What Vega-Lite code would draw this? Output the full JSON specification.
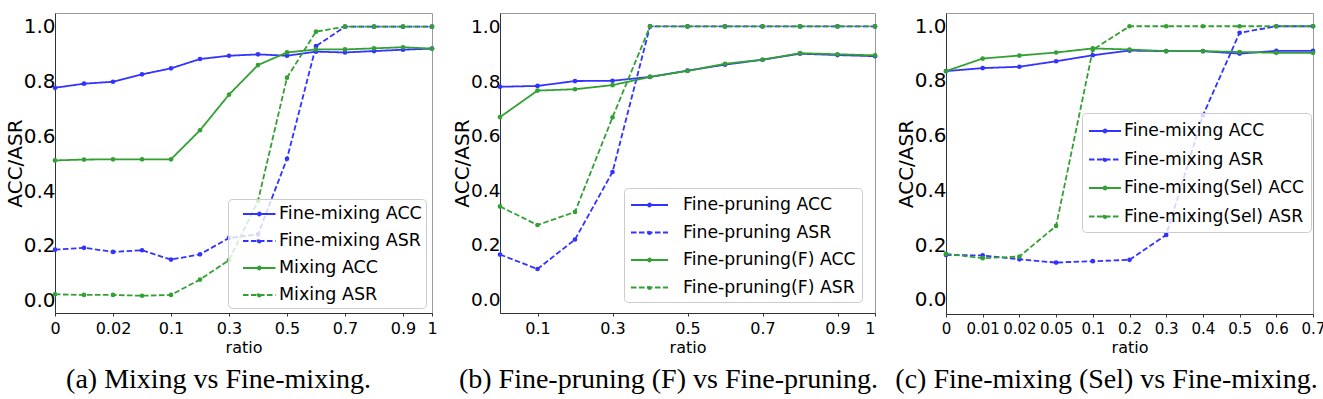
{
  "$schema": "https://vega.github.io/schema/vega-lite/v6.json",
  "padding": {"left": 4, "top": 12, "right": 0, "bottom": 0},
  "background": "white",
  "spacing": 14,
  "config": {
    "font": "DejaVu Sans",
    "view": {"stroke": "#999", "strokeWidth": 1},
    "axis": {"grid": false, "domainColor": "#333", "labelColor": "black", "titleColor": "black", "titleFontWeight": "normal", "labelFont": "DejaVu Sans", "titleFont": "DejaVu Sans"},
    "axisX": {"labelFontSize": 16, "titleFontSize": 16, "ticks": true, "tickSize": 3, "tickColor": "#333", "labelPadding": 4, "titlePadding": 3, "labelAngle": 0},
    "axisY": {"labelFontSize": 20, "titleFontSize": 20, "ticks": false, "labelPadding": 0, "titlePadding": -2},
    "legend": {"symbolStrokeWidth": 1.8, "symbolSize": 400, "labelFont": "DejaVu Sans", "labelColor": "black", "fillColor": "rgba(255,255,255,0.8)", "strokeColor": "#ccc", "cornerRadius": 4, "labelLimit": 400},
    "title": {"font": "Liberation Serif", "fontSize": 28, "fontWeight": "normal", "color": "black", "orient": "bottom", "offset": 11}
  },
  "datasets": {
    "a": [
      {"ratio": "0", "series": "Fine-mixing ACC", "value": 0.777},
      {"ratio": "0.01", "series": "Fine-mixing ACC", "value": 0.792},
      {"ratio": "0.02", "series": "Fine-mixing ACC", "value": 0.799},
      {"ratio": "0.05", "series": "Fine-mixing ACC", "value": 0.826},
      {"ratio": "0.1", "series": "Fine-mixing ACC", "value": 0.848},
      {"ratio": "0.2", "series": "Fine-mixing ACC", "value": 0.882},
      {"ratio": "0.3", "series": "Fine-mixing ACC", "value": 0.894},
      {"ratio": "0.4", "series": "Fine-mixing ACC", "value": 0.899},
      {"ratio": "0.5", "series": "Fine-mixing ACC", "value": 0.894},
      {"ratio": "0.6", "series": "Fine-mixing ACC", "value": 0.909},
      {"ratio": "0.7", "series": "Fine-mixing ACC", "value": 0.906},
      {"ratio": "0.8", "series": "Fine-mixing ACC", "value": 0.911},
      {"ratio": "0.9", "series": "Fine-mixing ACC", "value": 0.916},
      {"ratio": "1", "series": "Fine-mixing ACC", "value": 0.920},
      {"ratio": "0", "series": "Fine-mixing ASR", "value": 0.186},
      {"ratio": "0.01", "series": "Fine-mixing ASR", "value": 0.193},
      {"ratio": "0.02", "series": "Fine-mixing ASR", "value": 0.178},
      {"ratio": "0.05", "series": "Fine-mixing ASR", "value": 0.184},
      {"ratio": "0.1", "series": "Fine-mixing ASR", "value": 0.150},
      {"ratio": "0.2", "series": "Fine-mixing ASR", "value": 0.169},
      {"ratio": "0.3", "series": "Fine-mixing ASR", "value": 0.229},
      {"ratio": "0.4", "series": "Fine-mixing ASR", "value": 0.242},
      {"ratio": "0.5", "series": "Fine-mixing ASR", "value": 0.518},
      {"ratio": "0.6", "series": "Fine-mixing ASR", "value": 0.929},
      {"ratio": "0.7", "series": "Fine-mixing ASR", "value": 1.0},
      {"ratio": "0.8", "series": "Fine-mixing ASR", "value": 1.0},
      {"ratio": "0.9", "series": "Fine-mixing ASR", "value": 1.0},
      {"ratio": "1", "series": "Fine-mixing ASR", "value": 1.0},
      {"ratio": "0", "series": "Mixing ACC", "value": 0.512},
      {"ratio": "0.01", "series": "Mixing ACC", "value": 0.515},
      {"ratio": "0.02", "series": "Mixing ACC", "value": 0.516},
      {"ratio": "0.05", "series": "Mixing ACC", "value": 0.516},
      {"ratio": "0.1", "series": "Mixing ACC", "value": 0.516},
      {"ratio": "0.2", "series": "Mixing ACC", "value": 0.622},
      {"ratio": "0.3", "series": "Mixing ACC", "value": 0.752},
      {"ratio": "0.4", "series": "Mixing ACC", "value": 0.860},
      {"ratio": "0.5", "series": "Mixing ACC", "value": 0.906},
      {"ratio": "0.6", "series": "Mixing ACC", "value": 0.917},
      {"ratio": "0.7", "series": "Mixing ACC", "value": 0.917},
      {"ratio": "0.8", "series": "Mixing ACC", "value": 0.921},
      {"ratio": "0.9", "series": "Mixing ACC", "value": 0.925},
      {"ratio": "1", "series": "Mixing ACC", "value": 0.920},
      {"ratio": "0", "series": "Mixing ASR", "value": 0.023},
      {"ratio": "0.01", "series": "Mixing ASR", "value": 0.021},
      {"ratio": "0.02", "series": "Mixing ASR", "value": 0.021},
      {"ratio": "0.05", "series": "Mixing ASR", "value": 0.018},
      {"ratio": "0.1", "series": "Mixing ASR", "value": 0.021},
      {"ratio": "0.2", "series": "Mixing ASR", "value": 0.077},
      {"ratio": "0.3", "series": "Mixing ASR", "value": 0.148},
      {"ratio": "0.4", "series": "Mixing ASR", "value": 0.364},
      {"ratio": "0.5", "series": "Mixing ASR", "value": 0.814},
      {"ratio": "0.6", "series": "Mixing ASR", "value": 0.982},
      {"ratio": "0.7", "series": "Mixing ASR", "value": 1.0},
      {"ratio": "0.8", "series": "Mixing ASR", "value": 1.0},
      {"ratio": "0.9", "series": "Mixing ASR", "value": 1.0},
      {"ratio": "1", "series": "Mixing ASR", "value": 1.0}
    ],
    "b": [
      {"ratio": 0.0, "series": "Fine-pruning ACC", "value": 0.779},
      {"ratio": 0.1, "series": "Fine-pruning ACC", "value": 0.782},
      {"ratio": 0.2, "series": "Fine-pruning ACC", "value": 0.800},
      {"ratio": 0.3, "series": "Fine-pruning ACC", "value": 0.801},
      {"ratio": 0.4, "series": "Fine-pruning ACC", "value": 0.815},
      {"ratio": 0.5, "series": "Fine-pruning ACC", "value": 0.838},
      {"ratio": 0.6, "series": "Fine-pruning ACC", "value": 0.860},
      {"ratio": 0.7, "series": "Fine-pruning ACC", "value": 0.878},
      {"ratio": 0.8, "series": "Fine-pruning ACC", "value": 0.900},
      {"ratio": 0.9, "series": "Fine-pruning ACC", "value": 0.895},
      {"ratio": 1.0, "series": "Fine-pruning ACC", "value": 0.891},
      {"ratio": 0.0, "series": "Fine-pruning ASR", "value": 0.165},
      {"ratio": 0.1, "series": "Fine-pruning ASR", "value": 0.112},
      {"ratio": 0.2, "series": "Fine-pruning ASR", "value": 0.220},
      {"ratio": 0.3, "series": "Fine-pruning ASR", "value": 0.467},
      {"ratio": 0.4, "series": "Fine-pruning ASR", "value": 1.0},
      {"ratio": 0.5, "series": "Fine-pruning ASR", "value": 1.0},
      {"ratio": 0.6, "series": "Fine-pruning ASR", "value": 1.0},
      {"ratio": 0.7, "series": "Fine-pruning ASR", "value": 1.0},
      {"ratio": 0.8, "series": "Fine-pruning ASR", "value": 1.0},
      {"ratio": 0.9, "series": "Fine-pruning ASR", "value": 1.0},
      {"ratio": 1.0, "series": "Fine-pruning ASR", "value": 1.0},
      {"ratio": 0.0, "series": "Fine-pruning(F) ACC", "value": 0.668},
      {"ratio": 0.1, "series": "Fine-pruning(F) ACC", "value": 0.765},
      {"ratio": 0.2, "series": "Fine-pruning(F) ACC", "value": 0.770},
      {"ratio": 0.3, "series": "Fine-pruning(F) ACC", "value": 0.785},
      {"ratio": 0.4, "series": "Fine-pruning(F) ACC", "value": 0.815},
      {"ratio": 0.5, "series": "Fine-pruning(F) ACC", "value": 0.837},
      {"ratio": 0.6, "series": "Fine-pruning(F) ACC", "value": 0.863},
      {"ratio": 0.7, "series": "Fine-pruning(F) ACC", "value": 0.878},
      {"ratio": 0.8, "series": "Fine-pruning(F) ACC", "value": 0.902},
      {"ratio": 0.9, "series": "Fine-pruning(F) ACC", "value": 0.898},
      {"ratio": 1.0, "series": "Fine-pruning(F) ACC", "value": 0.894},
      {"ratio": 0.0, "series": "Fine-pruning(F) ASR", "value": 0.341},
      {"ratio": 0.1, "series": "Fine-pruning(F) ASR", "value": 0.273},
      {"ratio": 0.2, "series": "Fine-pruning(F) ASR", "value": 0.321},
      {"ratio": 0.3, "series": "Fine-pruning(F) ASR", "value": 0.667},
      {"ratio": 0.4, "series": "Fine-pruning(F) ASR", "value": 1.0},
      {"ratio": 0.5, "series": "Fine-pruning(F) ASR", "value": 1.0},
      {"ratio": 0.6, "series": "Fine-pruning(F) ASR", "value": 1.0},
      {"ratio": 0.7, "series": "Fine-pruning(F) ASR", "value": 1.0},
      {"ratio": 0.8, "series": "Fine-pruning(F) ASR", "value": 1.0},
      {"ratio": 0.9, "series": "Fine-pruning(F) ASR", "value": 1.0},
      {"ratio": 1.0, "series": "Fine-pruning(F) ASR", "value": 1.0}
    ],
    "c": [
      {"ratio": "0", "series": "Fine-mixing ACC", "value": 0.836},
      {"ratio": "0.01", "series": "Fine-mixing ACC", "value": 0.847},
      {"ratio": "0.02", "series": "Fine-mixing ACC", "value": 0.852},
      {"ratio": "0.05", "series": "Fine-mixing ACC", "value": 0.872},
      {"ratio": "0.1", "series": "Fine-mixing ACC", "value": 0.894},
      {"ratio": "0.2", "series": "Fine-mixing ACC", "value": 0.911},
      {"ratio": "0.3", "series": "Fine-mixing ACC", "value": 0.909},
      {"ratio": "0.4", "series": "Fine-mixing ACC", "value": 0.909},
      {"ratio": "0.5", "series": "Fine-mixing ACC", "value": 0.900},
      {"ratio": "0.6", "series": "Fine-mixing ACC", "value": 0.910},
      {"ratio": "0.7", "series": "Fine-mixing ACC", "value": 0.910},
      {"ratio": "0", "series": "Fine-mixing ASR", "value": 0.164},
      {"ratio": "0.01", "series": "Fine-mixing ASR", "value": 0.162},
      {"ratio": "0.02", "series": "Fine-mixing ASR", "value": 0.148},
      {"ratio": "0.05", "series": "Fine-mixing ASR", "value": 0.136},
      {"ratio": "0.1", "series": "Fine-mixing ASR", "value": 0.141},
      {"ratio": "0.2", "series": "Fine-mixing ASR", "value": 0.146},
      {"ratio": "0.3", "series": "Fine-mixing ASR", "value": 0.237},
      {"ratio": "0.4", "series": "Fine-mixing ASR", "value": 0.674},
      {"ratio": "0.5", "series": "Fine-mixing ASR", "value": 0.976},
      {"ratio": "0.6", "series": "Fine-mixing ASR", "value": 1.0},
      {"ratio": "0.7", "series": "Fine-mixing ASR", "value": 1.0},
      {"ratio": "0", "series": "Fine-mixing(Sel) ACC", "value": 0.836},
      {"ratio": "0.01", "series": "Fine-mixing(Sel) ACC", "value": 0.882},
      {"ratio": "0.02", "series": "Fine-mixing(Sel) ACC", "value": 0.893},
      {"ratio": "0.05", "series": "Fine-mixing(Sel) ACC", "value": 0.904},
      {"ratio": "0.1", "series": "Fine-mixing(Sel) ACC", "value": 0.919},
      {"ratio": "0.2", "series": "Fine-mixing(Sel) ACC", "value": 0.915},
      {"ratio": "0.3", "series": "Fine-mixing(Sel) ACC", "value": 0.909},
      {"ratio": "0.4", "series": "Fine-mixing(Sel) ACC", "value": 0.909},
      {"ratio": "0.5", "series": "Fine-mixing(Sel) ACC", "value": 0.906},
      {"ratio": "0.6", "series": "Fine-mixing(Sel) ACC", "value": 0.903},
      {"ratio": "0.7", "series": "Fine-mixing(Sel) ACC", "value": 0.903},
      {"ratio": "0", "series": "Fine-mixing(Sel) ASR", "value": 0.168},
      {"ratio": "0.01", "series": "Fine-mixing(Sel) ASR", "value": 0.152},
      {"ratio": "0.02", "series": "Fine-mixing(Sel) ASR", "value": 0.158},
      {"ratio": "0.05", "series": "Fine-mixing(Sel) ASR", "value": 0.270},
      {"ratio": "0.1", "series": "Fine-mixing(Sel) ASR", "value": 0.914},
      {"ratio": "0.2", "series": "Fine-mixing(Sel) ASR", "value": 1.0},
      {"ratio": "0.3", "series": "Fine-mixing(Sel) ASR", "value": 1.0},
      {"ratio": "0.4", "series": "Fine-mixing(Sel) ASR", "value": 1.0},
      {"ratio": "0.5", "series": "Fine-mixing(Sel) ASR", "value": 1.0},
      {"ratio": "0.6", "series": "Fine-mixing(Sel) ASR", "value": 1.0},
      {"ratio": "0.7", "series": "Fine-mixing(Sel) ASR", "value": 1.0}
    ]
  },
  "resolve": {"scale": {"color": "independent", "strokeDash": "independent"}, "legend": {"color": "independent", "strokeDash": "independent"}},
  "hconcat": [
    {
      "width": 377, "height": 300,
      "data": {"name": "a"},
      "title": {"text": "(a) Mixing vs Fine-mixing.", "dx": -25},
      "encoding": {
        "x": {"field": "ratio", "type": "ordinal", "sort": ["0","0.01","0.02","0.05","0.1","0.2","0.3","0.4","0.5","0.6","0.7","0.8","0.9","1"], "scale": {"type": "point", "padding": 0}, "axis": {"title": "ratio", "values": ["0","0.02","0.1","0.3","0.5","0.7","0.9","1"]}},
        "y": {"field": "value", "type": "quantitative", "scale": {"domain": [-0.045, 1.05], "nice": false, "zero": false}, "axis": {"title": "ACC/ASR", "values": [0, 0.2, 0.4, 0.6, 0.8, 1.0], "format": ".1f"}}
      },
      "layer": [
        {
          "mark": {"type": "line", "strokeWidth": 1.8},
          "encoding": {
            "color": {"field": "series", "type": "nominal", "scale": {"domain": ["Fine-mixing ACC","Fine-mixing ASR","Mixing ACC","Mixing ASR"], "range": ["#3333ff","#3333ff","#33a033","#33a033"]}, "legend": {"title": null, "orient": "none", "legendX": 173, "legendY": 186, "labelFontSize": 17.5, "symbolType": "M0,0H3.25M1.78,0A0.15,0.15 0 1,1 1.48,0A0.15,0.15 0 1,1 1.78,0", "labelOffset": 25, "padding": 4, "rowPadding": 7}},
            "strokeDash": {"field": "series", "type": "nominal", "scale": {"domain": ["Fine-mixing ACC","Fine-mixing ASR","Mixing ACC","Mixing ASR"], "range": [[1,0],[5.5,2.5],[1,0],[5.5,2.5]]}, "legend": {"title": null, "orient": "none", "legendX": 173, "legendY": 186, "labelFontSize": 17.5, "symbolType": "M0,0H3.25M1.78,0A0.15,0.15 0 1,1 1.48,0A0.15,0.15 0 1,1 1.78,0", "labelOffset": 25, "padding": 4, "rowPadding": 7}}
          }
        },
        {
          "mark": {"type": "point", "filled": true, "size": 22, "opacity": 1},
          "encoding": {
            "color": {"field": "series", "type": "nominal", "legend": null}
          }
        }
      ]
    },
    {
      "width": 375, "height": 300,
      "data": {"name": "b"},
      "title": {"text": "(b) Fine-pruning (F) vs Fine-pruning.", "dx": -19},
      "encoding": {
        "x": {"field": "ratio", "type": "quantitative", "scale": {"domain": [0, 1], "nice": false}, "axis": {"title": "ratio", "values": [0.1, 0.3, 0.5, 0.7, 0.9, 1], "format": "~g"}},
        "y": {"field": "value", "type": "quantitative", "scale": {"domain": [-0.049, 1.049], "nice": false, "zero": false}, "axis": {"title": "ACC/ASR", "values": [0, 0.2, 0.4, 0.6, 0.8, 1.0], "format": ".1f", "labelFontSize": 18.5}}
      },
      "layer": [
        {
          "mark": {"type": "line", "strokeWidth": 1.8},
          "encoding": {
            "color": {"field": "series", "type": "nominal", "scale": {"domain": ["Fine-pruning ACC","Fine-pruning ASR","Fine-pruning(F) ACC","Fine-pruning(F) ASR"], "range": ["#3333ff","#3333ff","#33a033","#33a033"]}, "legend": {"title": null, "orient": "none", "legendX": 124, "legendY": 175, "labelFontSize": 17.3, "symbolType": "M-1,0H2.7M1.0,0A0.15,0.15 0 1,1 0.7,0A0.15,0.15 0 1,1 1.0,0", "labelOffset": 31, "padding": 6, "rowPadding": 7.5}},
            "strokeDash": {"field": "series", "type": "nominal", "scale": {"domain": ["Fine-pruning ACC","Fine-pruning ASR","Fine-pruning(F) ACC","Fine-pruning(F) ASR"], "range": [[1,0],[5.5,2.5],[1,0],[5.5,2.5]]}, "legend": {"title": null, "orient": "none", "legendX": 124, "legendY": 175, "labelFontSize": 17.3, "symbolType": "M-1,0H2.7M1.0,0A0.15,0.15 0 1,1 0.7,0A0.15,0.15 0 1,1 1.0,0", "labelOffset": 31, "padding": 6, "rowPadding": 7.5}}
          }
        },
        {
          "mark": {"type": "point", "filled": true, "size": 22, "opacity": 1},
          "encoding": {
            "color": {"field": "series", "type": "nominal", "legend": null}
          }
        }
      ]
    },
    {
      "width": 367, "height": 301,
      "data": {"name": "c"},
      "title": {"text": "(c) Fine-mixing (Sel) vs Fine-mixing.", "dx": -23},
      "encoding": {
        "x": {"field": "ratio", "type": "ordinal", "sort": ["0","0.01","0.02","0.05","0.1","0.2","0.3","0.4","0.5","0.6","0.7"], "scale": {"type": "point", "padding": 0}, "axis": {"title": "ratio", "labelFontSize": 15}},
        "y": {"field": "value", "type": "quantitative", "scale": {"domain": [-0.052, 1.0485], "nice": false, "zero": false}, "axis": {"title": "ACC/ASR", "values": [0, 0.2, 0.4, 0.6, 0.8, 1.0], "format": ".1f"}}
      },
      "layer": [
        {
          "mark": {"type": "line", "strokeWidth": 1.8},
          "encoding": {
            "color": {"field": "series", "type": "nominal", "scale": {"domain": ["Fine-mixing ACC","Fine-mixing ASR","Fine-mixing(Sel) ACC","Fine-mixing(Sel) ASR"], "range": ["#3333ff","#3333ff","#33a033","#33a033"]}, "legend": {"title": null, "orient": "none", "legendX": 136, "legendY": 100, "labelFontSize": 17.2, "symbolType": "M-1.1,0H2.1M0.65,0A0.15,0.15 0 1,1 0.35,0A0.15,0.15 0 1,1 0.65,0", "labelOffset": 13, "padding": 7, "rowPadding": 8.5}},
            "strokeDash": {"field": "series", "type": "nominal", "scale": {"domain": ["Fine-mixing ACC","Fine-mixing ASR","Fine-mixing(Sel) ACC","Fine-mixing(Sel) ASR"], "range": [[1,0],[5.5,2.5],[1,0],[5.5,2.5]]}, "legend": {"title": null, "orient": "none", "legendX": 136, "legendY": 100, "labelFontSize": 17.2, "symbolType": "M-1.1,0H2.1M0.65,0A0.15,0.15 0 1,1 0.35,0A0.15,0.15 0 1,1 0.65,0", "labelOffset": 13, "padding": 7, "rowPadding": 8.5}}
          }
        },
        {
          "mark": {"type": "point", "filled": true, "size": 22, "opacity": 1},
          "encoding": {
            "color": {"field": "series", "type": "nominal", "legend": null}
          }
        }
      ]
    }
  ]
}
